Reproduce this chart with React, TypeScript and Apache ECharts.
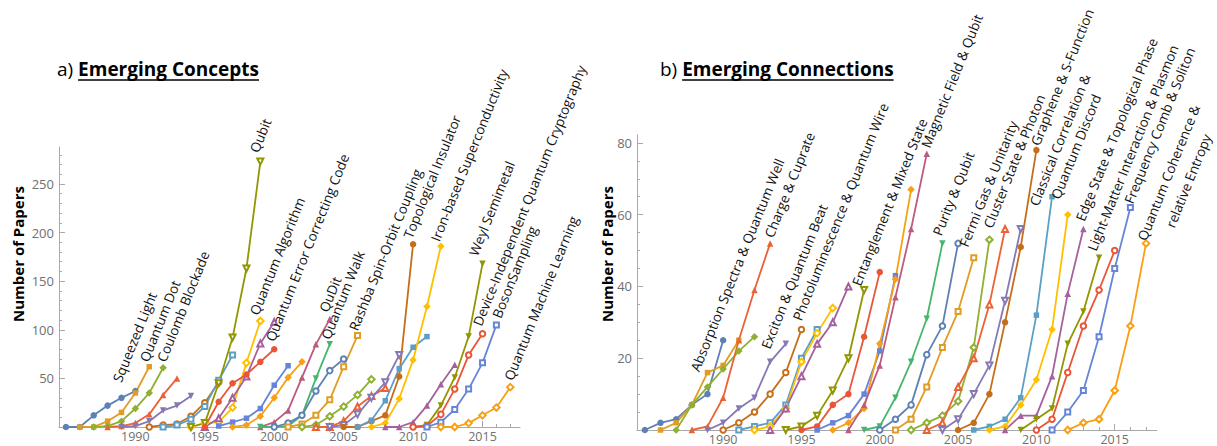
import React, { useEffect, useRef } from "react";
import * as echarts from "echarts";

// ---------- axes ----------
const YEAR_MIN = 1984.5;
const YEAR_MAX = 2017.7;
const xLabelYears = [1990, 1995, 2000, 2005, 2010, 2015];
const conceptYTicks = [50, 100, 150, 200, 250];
const connectionYTicks = [20, 40, 60, 80];
const CONCEPT_YMAX = 288;
const CONNECTION_YMAX = 82.2;

// Mathematica default palette (ColorData 97)
const PALETTE = [
  "#5E81B5", "#E19C24", "#8FB032", "#EB6235", "#8778B3",
  "#C56E1A", "#5D9EC7", "#FFBF00", "#A5609D", "#929600",
  "#E95536", "#6685D9", "#F89F13", "#BC5B80", "#47B66D",
];

// ---------- a) Emerging Concepts ----------
const conceptStart = [
  1985, 1986, 1987, 1988, 1989, 1991, 1992, 1994, 1995, 1994,
  1995, 1996, 1997, 1999, 1999, 2000, 2001, 2002, 2003, 2004,
  2005, 2006, 2007, 2008, 2010, 2010, 2011, 2012,
];
const conceptValues = [
  [0, 0, 12, 22, 30, 37],
  [0, 0, 6, 15, 35, 62],
  [0, 1, 6, 19, 35, 61],
  [0, 1, 4, 13, 33, 50],
  [0, 1, 6, 17, 22, 32],
  [0, 2, 3, 11, 25, 46],
  [0, 2, 8, 21, 48, 74],
  [0, 4, 5, 20, 66, 109],
  [0, 9, 30, 52, 86, 108],
  [0, 4, 45, 92, 163, 273],
  [0, 26, 45, 54, 67, 80],
  [1, 5, 9, 19, 43, 63],
  [0, 2, 11, 30, 51, 67],
  [0, 5, 17, 51, 85, 111],
  [0, 0, 1, 12, 50, 85],
  [0, 4, 12, 37, 58, 70],
  [0, 3, 12, 28, 62, 94],
  [0, 2, 11, 21, 33, 49],
  [0, 0, 6, 21, 32, 40],
  [0, 2, 13, 30, 46, 74],
  [0, 0, 6, 12, 52, 188],
  [0, 7, 27, 60, 82, 93],
  [0, 4, 29, 69, 124, 186],
  [0, 0, 5, 22, 44, 64],
  [0, 2, 22, 51, 93, 168],
  [0, 1, 13, 39, 74, 96],
  [0, 5, 18, 39, 66, 105],
  [0, 0, 4, 12, 20, 41],
];
const conceptLabels = [
  { text: "Squeezed Light", s: 0, dx: -15, dy: -8 },
  { text: "Quantum Dot", s: 1, dx: -2, dy: -4 },
  { text: "Coulomb Blockade", s: 2, dx: 1.5, dy: -5 },
  { text: "Qubit", s: 9, dx: -3, dy: -8 },
  { text: "Quantum Algorithm", s: 7, dx: -3, dy: -5 },
  { text: "Quantum Error Correcting Code", s: 10, dx: -1, dy: -7 },
  { text: "QuDit", s: 13, dx: -3, dy: -6 },
  { text: "Quantum Walk", s: 14, dx: -1, dy: -4 },
  { text: "Rashba Spin-Orbit Coupling", s: 16, dx: -1, dy: -4 },
  { text: "Topological Insulator", s: 20, dx: -2, dy: -5 },
  { text: "Iron-based Superconductivity", s: 22, dx: -2.5, dy: -4 },
  { text: "Weyl Semimetal", s: 24, dx: -6, dy: -7 },
  { text: "Device-Independent Quantum Cryptography", s: 25, dx: -2, dy: -7 },
  { text: "BosonSampling", s: 26, dx: 3.5, dy: -6 },
  { text: "Quantum Machine Learning", s: 27, dx: 1.5, dy: -6 },
];

// ---------- b) Emerging Connections ----------
const connectionStart = [
  1985, 1986, 1987, 1988, 1989, 1990, 1991, 1992, 1993, 1994,
  1995, 1996, 1997, 1998, 1999, 2000, 2001, 2002, 2003, 2004,
  2005, 2006, 2007, 2008, 2009, 2010, 2011, 2012,
];
const connectionValues = [
  [0, 2, 3, 7, 10, 25],
  [0, 2, 7, 16, 18, 25],
  [0, 7, 12, 17, 22, 26],
  [0, 1, 9, 25, 39, 52],
  [0, 2, 6, 9, 19, 24],
  [0, 2, 5, 10, 16, 28],
  [0, 1, 2, 7, 20, 28],
  [0, 1, 6, 19, 27, 34],
  [0, 6, 15, 24, 30, 40],
  [0, 1, 4, 11, 20, 39],
  [0, 1, 7, 10, 26, 44],
  [0, 2, 4, 10, 22, 43],
  [0, 2, 6, 24, 42, 67],
  [0, 7, 18, 37, 56, 77],
  [0, 1, 9, 19, 31, 52],
  [0, 3, 7, 21, 29, 52],
  [0, 3, 12, 23, 33, 48],
  [0, 2, 4, 8, 23, 53],
  [0, 2, 12, 20, 35, 56],
  [0, 3, 10, 18, 36, 56],
  [0, 2, 10, 30, 51, 78],
  [0, 1, 3, 9, 32, 65],
  [0, 1, 7, 14, 28, 60],
  [0, 4, 4, 15, 38, 56],
  [0, 3, 6, 24, 33, 48],
  [0, 3, 16, 29, 39, 50],
  [0, 5, 11, 26, 45, 62],
  [0, 2, 3, 11, 29, 52],
];
const connectionLabels = [
  { text: "Absorption Spectra & Quantum Well", s: 0, dx: -25, dy: 32 },
  { text: "Charge & Cuprate", s: 3, dx: 2, dy: -5 },
  { text: "Exciton & Quantum Beat", s: 4, dx: -17, dy: 6 },
  { text: "Photoluminescence & Quantum Wire", s: 5, dx: -1, dy: -8 },
  { text: "Entanglement & Mixed State", s: 9, dx: -4.5, dy: -3.4 },
  { text: "Magnetic Field & Qubit", s: 13, dx: 2, dy: -5 },
  { text: "Purity & Qubit", s: 14, dx: -2, dy: -7 },
  { text: "Fermi Gas & Unitarity", s: 16, dx: -7, dy: -10 },
  { text: "Cluster State & Photon", s: 18, dx: -14, dy: 0 },
  { text: "Graphene & S-Function", s: 20, dx: 2, dy: -3.5 },
  { text: "Classical Correlation &", s: 21, dx: -15, dy: 10 },
  { text: "Quantum Discord", s: 21, dx: 6.6, dy: 3.2 },
  { text: "Edge State & Topological Phase", s: 23, dx: 0, dy: -7 },
  { text: "Light-Matter Interaction & Plasmon", s: 24, dx: -4, dy: -6 },
  { text: "Frequency Comb & Soliton", s: 26, dx: 1.5, dy: -3 },
  { text: "Quantum Coherence &", s: 27, dx: -1, dy: -2 },
  { text: "relative Entropy", s: 27, dx: 27.4, dy: -15 },
];

const LABEL_FONT = "Open Sans";
const LABEL_SIZE = 13.5;
const LABEL_ANGLE = (68 * Math.PI) / 180;
const AXIS_COLOR = "#a9a9a9";
const TICK_LABEL_COLOR = "#707070";

function markerFor(idx: number) {
  const open = Math.floor(idx / 5) % 2 === 1;
  const shape = idx % 5;
  const base = ["circle", "rect", "diamond", "triangle", "triangle"][shape];
  const size = open ? [5.5, 5, 6.5, 6, 6][shape] : [6.5, 5.5, 7.5, 6.5, 6.5][shape];
  const symbol = open ? "empty" + base[0].toUpperCase() + base.slice(1) : base;
  return { symbol, size, rotate: shape === 4 ? 180 : 0, open };
}

function buildSeries(starts: number[], values: number[][], axisIdx: number) {
  return values.map((vals, idx) => {
    const m = markerFor(idx);
    const color = PALETTE[idx % PALETTE.length];
    return {
      type: "line",
      xAxisIndex: axisIdx,
      yAxisIndex: axisIdx,
      data: vals.map((v, k) => [starts[idx] + k, v]),
      symbol: m.symbol,
      symbolSize: m.size,
      symbolRotate: m.rotate,
      showSymbol: true,
      clip: false,
      lineStyle: { color, width: 1.8 },
      itemStyle: { color, borderColor: color, borderWidth: m.open ? 0.8 : 0 },
      emphasis: { disabled: true },
      silent: true,
    };
  });
}

function range(a: number, b: number, step: number) {
  const out: number[] = [];
  for (let v = a; v <= b + 1e-9; v += step) out.push(v);
  return out;
}

const plainNumber = (v: number) => String(v);

function xAxes(gridIndex: number) {
  const minor = range(1985, 2017, 1);
  return [
    {
      type: "value", gridIndex, min: YEAR_MIN, max: YEAR_MAX, position: "bottom",
      axisLine: { show: true, onZero: false, lineStyle: { color: AXIS_COLOR, width: 1 } },
      axisTick: { show: true, inside: true, length: 6, customValues: xLabelYears, lineStyle: { color: AXIS_COLOR } },
      axisLabel: { show: true, customValues: xLabelYears, formatter: plainNumber, color: TICK_LABEL_COLOR, fontSize: 12.5, fontFamily: LABEL_FONT, margin: 2, lineHeight: 14 },
      splitLine: { show: false },
    },
    {
      type: "value", gridIndex, min: YEAR_MIN, max: YEAR_MAX, position: "bottom",
      axisLine: { show: false, onZero: false },
      axisTick: { show: true, inside: true, length: 3, customValues: minor, lineStyle: { color: AXIS_COLOR } },
      axisLabel: { show: false, customValues: minor },
      splitLine: { show: false },
    },
  ];
}

function yAxes(gridIndex: number, max: number, ticks: number[], minorStep: number) {
  const minor = range(minorStep, max, minorStep);
  return [
    {
      type: "value", gridIndex, min: 0, max, position: "left",
      axisLine: { show: true, onZero: false, lineStyle: { color: AXIS_COLOR, width: 1 } },
      axisTick: { show: true, inside: true, length: 6, customValues: ticks, lineStyle: { color: AXIS_COLOR } },
      axisLabel: { show: true, customValues: ticks, formatter: plainNumber, color: TICK_LABEL_COLOR, fontSize: 13, fontFamily: LABEL_FONT, margin: 5 },
      splitLine: { show: false },
    },
    {
      type: "value", gridIndex, min: 0, max, position: "left",
      axisLine: { show: false, onZero: false },
      axisTick: { show: true, inside: true, length: 3, customValues: minor, lineStyle: { color: AXIS_COLOR } },
      axisLabel: { show: false, customValues: minor },
      splitLine: { show: false },
    },
  ];
}

function measure(text: string, font: string) {
  const ctx = document.createElement("canvas").getContext("2d");
  if (!ctx) return text.length * 9;
  ctx.font = font;
  return ctx.measureText(text).width;
}

export default function App() {
  const ref = useRef<HTMLDivElement>(null);
  useEffect(() => {
    if (!ref.current) return;
    const chart = echarts.init(ref.current, null, { renderer: "svg" });
    const leftSeries = buildSeries(conceptStart, conceptValues, 0);
    // right chart uses axis index 2 (main); minor-tick axes are 1 and 3
    const rightSeries = buildSeries(connectionStart, connectionValues, 2);
    chart.setOption({
      animation: false,
      backgroundColor: "#ffffff",
      grid: [
        { left: 59, top: 147, width: 461, height: 280 },
        { left: 637, top: 135, width: 520, height: 295 },
      ],
      xAxis: [...xAxes(0), ...xAxes(1)],
      yAxis: [
        ...yAxes(0, CONCEPT_YMAX, conceptYTicks, 10),
        ...yAxes(1, CONNECTION_YMAX, connectionYTicks, 5),
      ],
      series: [...leftSeries, ...rightSeries],
    });

    const graphics: any[] = [];
    const addLabels = (labels: any[], starts: number[], values: number[][], offset: number) => {
      labels.forEach((l) => {
        const vals = values[l.s];
        const pt = chart.convertToPixel({ seriesIndex: offset + l.s }, [starts[l.s] + vals.length - 1, vals[vals.length - 1]]) as number[];
        graphics.push({
          type: "text",
          x: pt[0] + l.dx + 3,
          y: pt[1] + l.dy + 1,
          rotation: LABEL_ANGLE,
          z: 100,
          silent: true,
          style: {
            text: l.text, fill: "#111", fontSize: LABEL_SIZE, fontFamily: LABEL_FONT,
            align: "left", verticalAlign: "bottom",
          },
        });
      });
    };
    addLabels(conceptLabels, conceptStart, conceptValues, 0);
    addLabels(connectionLabels, connectionStart, connectionValues, conceptValues.length);

    // titles
    const TITLE_SIZE = 19;
    const titleFont = "Open Sans";
    const addTitle = (prefix: string, main: string, x: number, y: number) => {
      const wPrefix = measure(prefix, `${TITLE_SIZE}px "${titleFont}"`);
      const wMain = measure(main, `bold ${TITLE_SIZE}px "${titleFont}"`);
      graphics.push({
        type: "text", x, y, z: 100, silent: true,
        style: { text: prefix, fill: "#000", fontSize: TITLE_SIZE, fontFamily: titleFont, align: "left", verticalAlign: "middle" },
      });
      graphics.push({
        type: "text", x: x + wPrefix, y, z: 100, silent: true,
        style: { text: main, fill: "#000", fontSize: TITLE_SIZE, fontWeight: "bold", fontFamily: titleFont, align: "left", verticalAlign: "middle" },
      });
      graphics.push({
        type: "line", z: 100, silent: true,
        shape: { x1: x + wPrefix, y1: y + 11, x2: x + wPrefix + wMain, y2: y + 11 },
        style: { stroke: "#000", lineWidth: 1.3 },
      });
    };
    addTitle("a) ", "Emerging Concepts", 57, 69);
    addTitle("b) ", "Emerging Connections", 660, 69);

    const addYName = (x: number, y: number) => {
      graphics.push({
        type: "text", x, y, rotation: Math.PI / 2, z: 100, silent: true,
        style: { text: "Number of Papers", fill: "#000", fontSize: 15, fontWeight: "bold", fontFamily: titleFont, align: "center", verticalAlign: "middle" },
      });
    };
    addYName(18, 254);
    addYName(607, 254);

    chart.setOption({ graphic: graphics });
    return () => chart.dispose();
  }, []);
  return <div ref={ref} style={{ position: "fixed", left: 0, top: 0, width: 1217, height: 446 }} />;
}
